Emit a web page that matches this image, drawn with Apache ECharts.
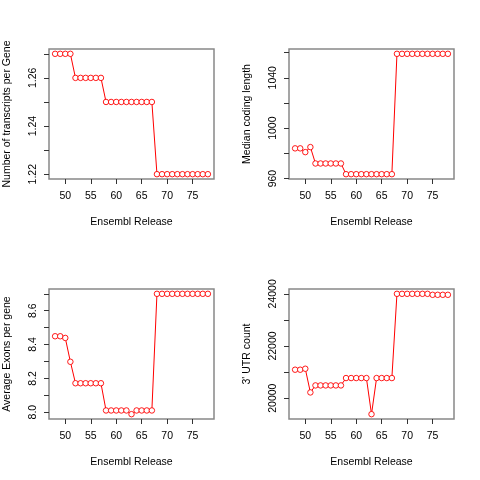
<!DOCTYPE html>
<html>
<head>
<meta charset="utf-8">
<script src="https://cdn.jsdelivr.net/npm/echarts@6/dist/echarts.min.js"></script>
<style>
  html, body { margin: 0; padding: 0; background: #fff; }
  #main { width: 480px; height: 480px; }
</style>
</head>
<body>
<div id="main"></div>
<script>
// Ensembl releases on the x axis
const releases = [48, 49, 50, 51, 52, 53, 54, 55, 56, 57, 58, 59, 60, 61, 62, 63,
  64, 65, 66, 67, 68, 69, 70, 71, 72, 73, 74, 75, 76, 77, 78];
const xTicks = [50, 55, 60, 65, 70, 75];

// panel values
const transcriptsPerGene = [1.27, 1.27, 1.27, 1.27, 1.26, 1.26, 1.26, 1.26, 1.26, 1.26,
  1.25, 1.25, 1.25, 1.25, 1.25, 1.25, 1.25, 1.25, 1.25, 1.25,
  1.22, 1.22, 1.22, 1.22, 1.22, 1.22, 1.22, 1.22, 1.22, 1.22, 1.22];
const medianCodingLength = [984, 984, 981, 985, 972, 972, 972, 972, 972, 972,
  963.5, 963.5, 963.5, 963.5, 963.5, 963.5, 963.5, 963.5, 963.5, 963.5,
  1059, 1059, 1059, 1059, 1059, 1059, 1059, 1059, 1059, 1059, 1059];
const avgExons = [8.449, 8.449, 8.439, 8.298, 8.171, 8.171, 8.171, 8.171, 8.171, 8.171,
  8.010, 8.010, 8.010, 8.010, 8.010, 7.988, 8.010, 8.010, 8.010, 8.010,
  8.70, 8.70, 8.70, 8.70, 8.70, 8.70, 8.70, 8.70, 8.70, 8.70, 8.70];
const utrCount = [21090, 21090, 21127, 20219, 20488, 20488, 20488, 20488, 20488, 20488,
  20770, 20770, 20770, 20770, 20770, 19385, 20770, 20770, 20770, 20770,
  24000, 24000, 24000, 24000, 24000, 24000, 24000, 23962, 23962, 23962, 23962];

// y ticks / labels per panel
const yTicks1 = [1.22, 1.23, 1.24, 1.25, 1.26, 1.27];
const yLabels1 = [1.22, 1.24, 1.26];
const yTicks2 = [960, 980, 1000, 1020, 1040, 1060];
const yLabels2 = [960, 1000, 1040];
const yTicks3 = [8.0, 8.1, 8.2, 8.3, 8.4, 8.5, 8.6, 8.7];
const yLabels3 = [8.0, 8.2, 8.4, 8.6];
const yTicks4 = [20000, 21000, 22000, 23000, 24000];
const yLabels4 = [20000, 22000, 24000];

const yNames = ['Number of transcripts per Gene', 'Median coding length',
  'Average Exons per gene', "3' UTR count"];

const FONT = 'Liberation Sans, Arial, sans-serif';

// R style range: data range plus 4% each side
function pad(vals) {
  const lo = Math.min(...vals), hi = Math.max(...vals);
  const d = (hi - lo) * 0.04;
  return [lo - d, hi + d];
}

const panels = [
  { data: transcriptsPerGene, ticks: yTicks1, labels: yLabels1, fmt: v => v.toFixed(2) },
  { data: medianCodingLength, ticks: yTicks2, labels: yLabels2, fmt: v => String(v) },
  { data: avgExons, ticks: yTicks3, labels: yLabels3, fmt: v => v.toFixed(1) },
  { data: utrCount, ticks: yTicks4, labels: yLabels4, fmt: v => String(v) }
];
const boxes = [[49, 49], [289, 49], [49, 289], [289, 289]];
const xr = pad(releases);

const grid = [], xAxis = [], yAxis = [], series = [];
panels.forEach((p, i) => {
  grid.push({
    left: boxes[i][0], top: boxes[i][1], width: 165, height: 130,
    show: true, borderColor: '#888', borderWidth: 1.5, backgroundColor: 'transparent'
  });
  xAxis.push({
    type: 'value', gridIndex: i, min: xr[0], max: xr[1],
    name: 'Ensembl Release', nameLocation: 'middle', nameGap: 38,
    nameTextStyle: { fontFamily: FONT, fontSize: 10.5, color: '#000' },
    axisLine: { show: false },
    axisTick: { show: true, length: 5, inside: false, customValues: xTicks,
      lineStyle: { color: '#333' } },
    axisLabel: { customValues: xTicks, margin: 12, fontFamily: FONT, fontSize: 10.5, color: '#000' },
    splitLine: { show: false }
  });
  const yr = pad(p.data);
  yAxis.push({
    type: 'value', gridIndex: i, min: yr[0], max: yr[1],
    name: yNames[i], nameLocation: 'middle', nameGap: 36, nameRotate: 90,
    nameTextStyle: { fontFamily: FONT, fontSize: 10.5, color: '#000' },
    axisLine: { show: false },
    axisTick: { show: true, length: 5, inside: false, customValues: p.ticks,
      lineStyle: { color: '#333' } },
    axisLabel: { customValues: p.labels, rotate: 90, margin: 10, formatter: p.fmt,
      fontFamily: FONT, fontSize: 10.5, color: '#000' },
    splitLine: { show: false }
  });
  series.push({
    type: 'line', xAxisIndex: i, yAxisIndex: i,
    data: releases.map((r, k) => [r, p.data[k]]),
    symbol: 'circle', symbolSize: 5.5, showSymbol: true,
    lineStyle: { color: 'red', width: 1 },
    itemStyle: { color: '#fff', borderColor: 'red', borderWidth: 0.9 },
    emphasis: { disabled: true }
  });
});

const chart = echarts.init(document.getElementById('main'), null, { renderer: 'canvas' });
chart.setOption({
  animation: false,
  backgroundColor: '#fff',
  grid: grid,
  xAxis: xAxis,
  yAxis: yAxis,
  series: series
});
</script>
</body>
</html>
